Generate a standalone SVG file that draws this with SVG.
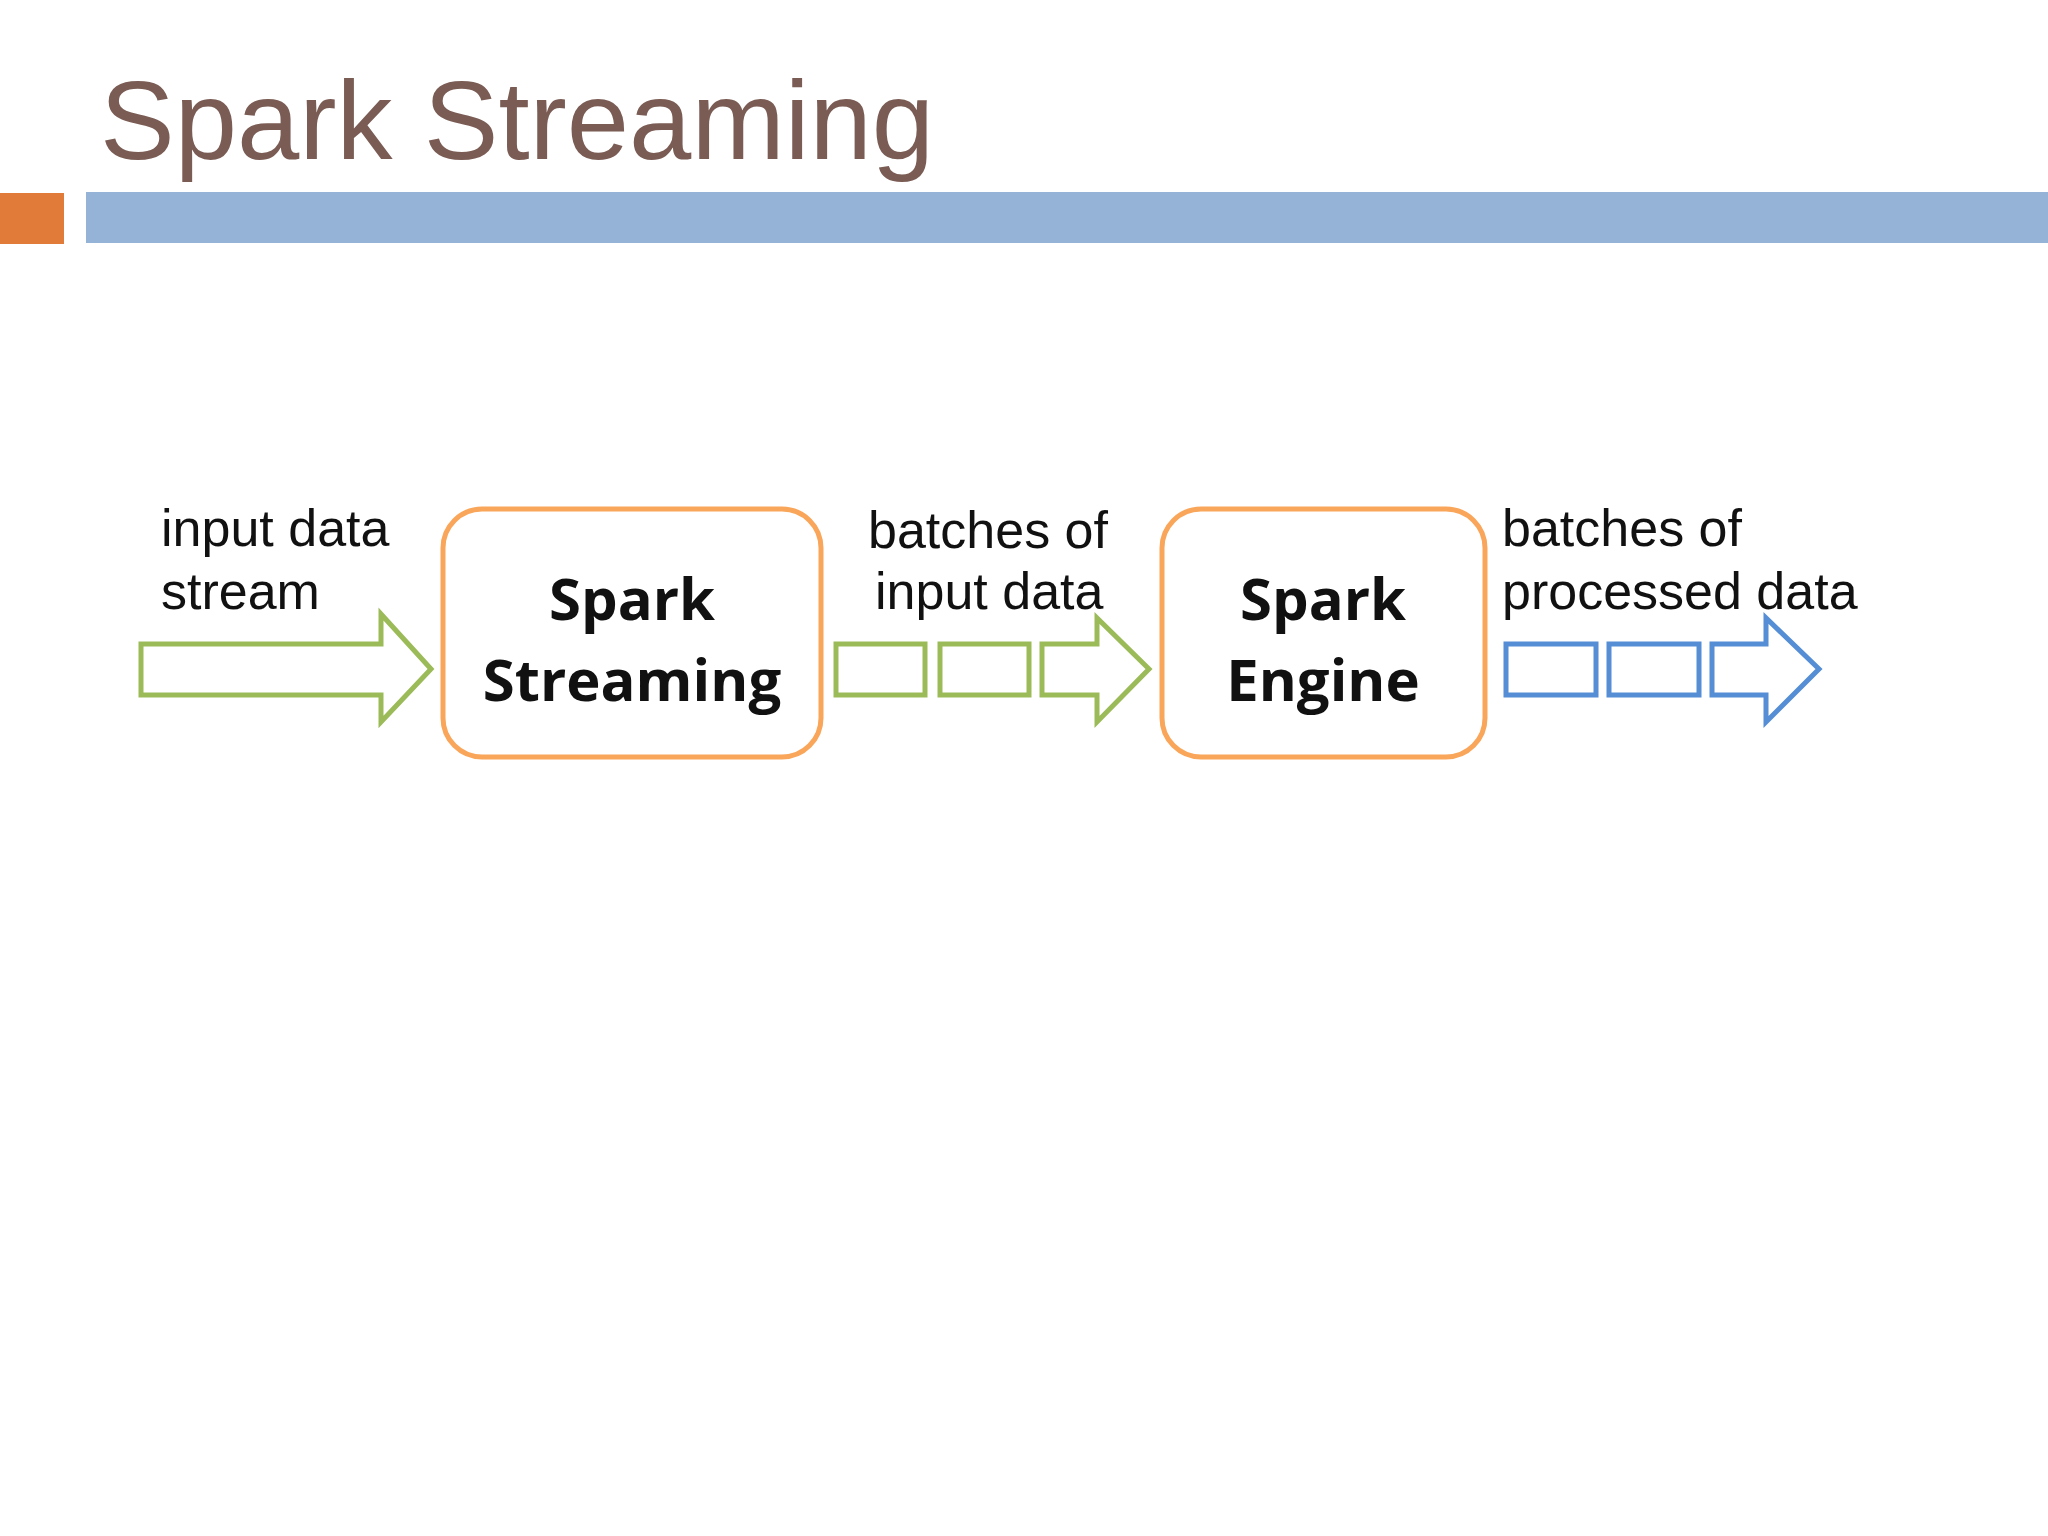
<svg xmlns="http://www.w3.org/2000/svg" width="2048" height="1536" viewBox="0 0 2048 1536">
<style>
.lbl{font-family:"Liberation Sans",Arial,sans-serif;font-size:52px;fill:#111}
.box{fill:#fff;stroke:#f9a65a;stroke-width:5}
.bt{font-family:"Open Sans","DejaVu Sans",sans-serif;font-weight:bold;font-size:58px;fill:#111;text-anchor:middle}
.g{fill:none;stroke:#9bbb59;stroke-width:5}
.b{fill:none;stroke:#558ed5;stroke-width:5}
</style>
<rect width="2048" height="1536" fill="#fff"/>
<text x="100" y="159" font-family="Liberation Sans,Arial,sans-serif" font-size="112" fill="#7a5c54">Spark Streaming</text>
<rect x="0" y="193" width="64" height="51" fill="#e07b39"/>
<rect x="86" y="192" width="1962" height="51" fill="#95b3d7"/>
<g id="labels">
<text class="lbl" x="161" y="546">input data</text>
<text class="lbl" x="161" y="609">stream</text>
<text class="lbl" x="868" y="548">batches of</text>
<text class="lbl" x="875" y="609">input data</text>
<text class="lbl" x="1502" y="546">batches of</text>
<text class="lbl" x="1502" y="609">processed data</text>
</g>
<g id="spark-streaming">
<rect class="box" x="443" y="509" width="378" height="248" rx="39"/>
<text class="bt" x="632" y="620">Spark</text>
<text class="bt" x="632" y="701">Streaming</text>
</g>
<g id="spark-engine">
<rect class="box" x="1162" y="509" width="323" height="248" rx="39"/>
<text class="bt" x="1323" y="620">Spark</text>
<text class="bt" x="1323" y="701">Engine</text>
</g>
<g id="connectors">
<path class="g" d="M141 644H381V614L431 669L381 722V695H141Z"/>
<rect class="g" x="836" y="644" width="89" height="51"/>
<rect class="g" x="940" y="644" width="89" height="51"/>
<path class="g" d="M1042 644H1097V618L1149 669L1097 722V695H1042Z"/>
<rect class="b" x="1506" y="644" width="90" height="51"/>
<rect class="b" x="1609" y="644" width="90" height="51"/>
<path class="b" d="M1712 644H1766V618L1819 669L1766 722V695H1712Z"/>
</g>
</svg>
